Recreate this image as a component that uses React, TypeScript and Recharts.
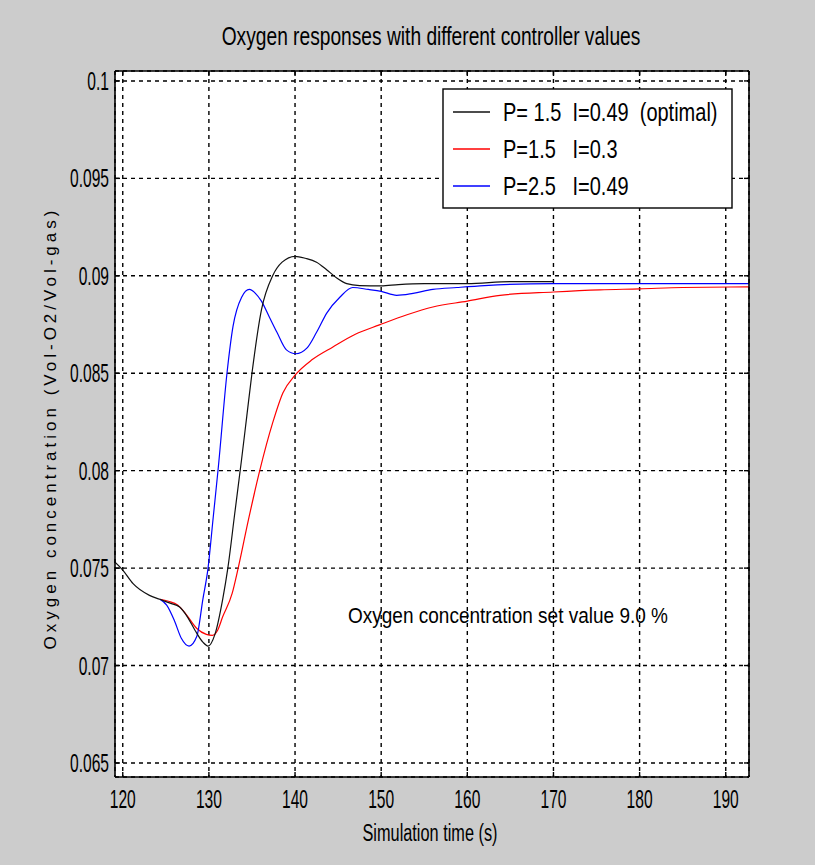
import { LineChart, Line, XAxis, YAxis, CartesianGrid } from 'recharts'

const xTicks = [120, 130, 140, 150, 160, 170, 180, 190]
const yTicks = [0.065, 0.07, 0.075, 0.08, 0.085, 0.09, 0.095, 0.1]

// P=1.5 I=0.49 (optimal)
const blackT = [119.1, 120, 121.2, 123.1, 124.3, 125.5, 126.6, 127.5, 128.4, 129.3, 129.9, 130.7, 131.6, 132.2, 133, 133.8, 134.4, 135, 136.1, 137.4, 138.5, 140, 141.2, 142.5, 143.7, 144.8, 146, 147.5, 150, 152, 155, 160, 165, 170]
const blackV = [0.0753, 0.0749, 0.0742, 0.0736, 0.0734, 0.0732, 0.073, 0.0725, 0.0718, 0.0712, 0.071, 0.0716, 0.0734, 0.075, 0.0778, 0.0806, 0.0828, 0.085, 0.08825, 0.09, 0.0907, 0.091, 0.0909, 0.0907, 0.0903, 0.0899, 0.0896, 0.0895, 0.08948, 0.08955, 0.0896, 0.0896, 0.0897, 0.0897]

// P=1.5 I=0.3
const redT = [124.3, 125.3, 126.4, 127.4, 128.6, 129.7, 130.4, 131, 131.6, 132.7, 133.4, 134.6, 135.9, 137.4, 138.6, 140, 142, 144.4, 147, 149.8, 153, 156, 160, 163.8, 170, 175.4, 180, 185, 192.7]
const redV = [0.0734, 0.0733, 0.0731, 0.0726, 0.0719, 0.0716, 0.07155, 0.0718, 0.0725, 0.0737, 0.075, 0.0775, 0.08, 0.08245, 0.084, 0.0849, 0.0857, 0.08635, 0.087, 0.08748, 0.088, 0.0884, 0.0887, 0.089, 0.08917, 0.08928, 0.08933, 0.0894, 0.08943]

// P=2.5 I=0.49
const blueT = [124.3, 125.1, 126, 126.8, 127.7, 128.6, 129.3, 129.9, 130.5, 131.1, 132.1, 132.8, 133.8, 134.7, 135.4, 136.1, 137, 137.9, 139, 140.1, 141.4, 142.5, 143.7, 145.2, 146.7, 148.5, 150, 151.8, 153.7, 156, 158.8, 162, 170, 180, 192.7]
const blueV = [0.0734, 0.0731, 0.0723, 0.0714, 0.071, 0.0715, 0.0734, 0.075, 0.0776, 0.0802, 0.085, 0.0874, 0.0889, 0.0893, 0.0891, 0.0887, 0.0879, 0.0871, 0.0862, 0.086, 0.0863, 0.0871, 0.0881, 0.0889, 0.0894, 0.0893, 0.0892, 0.089, 0.0891, 0.0893, 0.0894, 0.0895, 0.0896, 0.0896, 0.0896]

const legendItems = [
  { label: 'P= 1.5  I=0.49  (optimal)', color: '#111111' },
  { label: 'P=1.5   I=0.3', color: '#ff0000' },
  { label: 'P=2.5   I=0.49', color: '#0000ff' },
]

const toRows = (ts: number[], vs: number[]) => ts.map((t, i) => ({ t, v: vs[i] }))

const blackData = toRows(blackT, blackV)
const redData = toRows(redT, redV)
const blueData = toRows(blueT, blueV)

const font = '"Liberation Sans", Arial, sans-serif'

const XTick = ({ x, y, payload }: any) => (
  <text
    transform={`translate(${x},${y + 38}) scale(0.82,1.35)`}
    textAnchor="middle"
    fontSize={19}
    fontFamily={font}
    fill="#000"
  >
    {payload.value}
  </text>
)

const YTick = ({ x, y, payload }: any) => (
  <text
    transform={`translate(${x - 13},${y + 9}) scale(0.82,1.35)`}
    textAnchor="end"
    fontSize={19}
    fontFamily={font}
    fill="#000"
  >
    {String(payload.value)}
  </text>
)

const NoTick = () => <g />

export default function App() {
  return (
    <div style={{ position: 'absolute', left: 0, top: 0, width: 815, height: 865, background: '#cccccc' }}>
      <LineChart
        width={815}
        height={865}
        margin={{ top: 71, right: 66, bottom: 88, left: 115 }}
        style={{ background: '#cccccc' }}
      >
        <CartesianGrid stroke="#000" strokeDasharray="4 4" strokeWidth={1.4} fill="#ffffff" fillOpacity={1} />
        <XAxis
          dataKey="t"
          type="number"
          domain={[119.1, 192.7]}
          ticks={xTicks}
          allowDataOverflow
          mirror
          tickSize={5}
          axisLine={{ stroke: '#000', strokeWidth: 1.6 }}
          tickLine={{ stroke: '#000', strokeWidth: 1.4 }}
          tick={<XTick />}
        />
        <XAxis
          xAxisId="top"
          dataKey="t"
          type="number"
          orientation="top"
          domain={[119.1, 192.7]}
          ticks={xTicks}
          allowDataOverflow
          mirror
          tickSize={5}
          axisLine={{ stroke: '#000', strokeWidth: 1.6 }}
          tickLine={{ stroke: '#000', strokeWidth: 1.4 }}
          tick={<NoTick />}
        />
        <YAxis
          type="number"
          domain={[0.06428, 0.10051]}
          ticks={yTicks}
          allowDataOverflow
          mirror
          tickSize={5}
          axisLine={{ stroke: '#000', strokeWidth: 1.6 }}
          tickLine={{ stroke: '#000', strokeWidth: 1.4 }}
          tick={<YTick />}
        />
        <YAxis
          yAxisId="right"
          type="number"
          orientation="right"
          domain={[0.06428, 0.10051]}
          ticks={yTicks}
          allowDataOverflow
          mirror
          tickSize={5}
          axisLine={{ stroke: '#000', strokeWidth: 1.6 }}
          tickLine={{ stroke: '#000', strokeWidth: 1.4 }}
          tick={<NoTick />}
        />
        <Line data={redData} dataKey="v" type="monotone" stroke="#ff0000" strokeWidth={1.2} dot={false} isAnimationActive={false} />
        <Line data={blueData} dataKey="v" type="monotone" stroke="#0000ff" strokeWidth={1.2} dot={false} isAnimationActive={false} />
        <Line data={blackData} dataKey="v" type="monotone" stroke="#111111" strokeWidth={1.2} dot={false} isAnimationActive={false} />
      </LineChart>

      <svg
        width={815}
        height={865}
        style={{ position: 'absolute', left: 0, top: 0, pointerEvents: 'none' }}
        fontFamily={font}
      >
        <text transform="translate(431,45) scale(0.96,1.25)" textAnchor="middle" fontSize={20} fill="#000">
          Oxygen responses with different controller values
        </text>
        <text transform="translate(430,841) scale(0.96,1.45)" textAnchor="middle" fontSize={17} fill="#000">
          Simulation time (s)
        </text>
        <text
          transform="translate(56,428) rotate(-90)"
          textAnchor="middle"
          fontSize={17}
          letterSpacing={4}
          fill="#000"
        >
          Oxygen concentration (Vol-O2/Vol-gas)
        </text>
        <text transform="translate(508,623) scale(1,1.15)" textAnchor="middle" fontSize={19} fill="#000">
          Oxygen concentration set value 9.0 %
        </text>

        <rect x={443} y={89} width={289} height={119} fill="#ffffff" stroke="#000" strokeWidth={1.4} />
        {legendItems.map((item, i) => (
          <g key={item.label}>
            <line x1={453} x2={490} y1={112 + i * 37} y2={112 + i * 37} stroke={item.color} strokeWidth={1.5} />
            <text
              transform={`translate(503,${121 + i * 37}) scale(1,1.3)`}
              fontSize={20}
              fill="#000"
              style={{ whiteSpace: 'pre' }}
            >
              {item.label}
            </text>
          </g>
        ))}
      </svg>
    </div>
  )
}
